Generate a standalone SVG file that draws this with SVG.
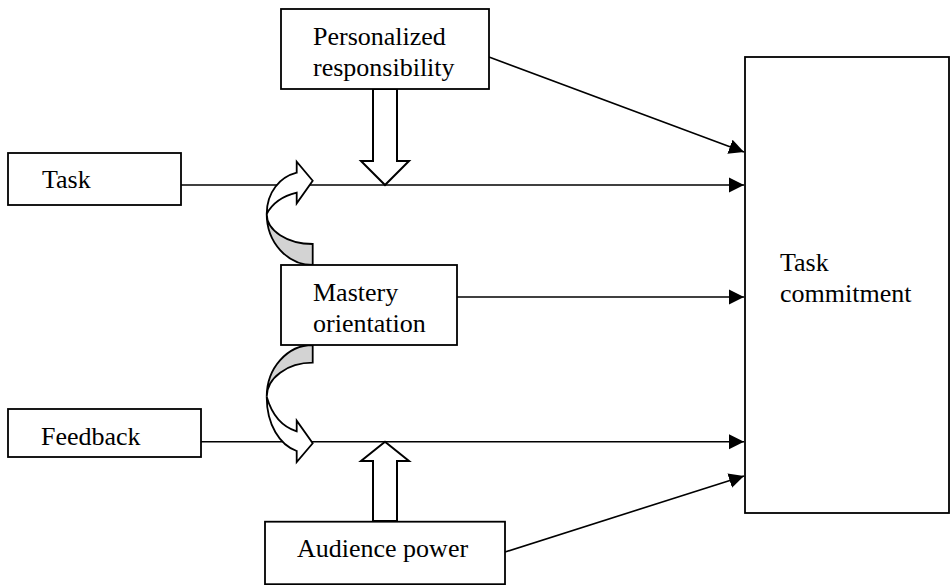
<svg xmlns="http://www.w3.org/2000/svg" width="951" height="585" viewBox="0 0 951 585">
<defs>
<style>
.box{fill:#fff;stroke:#000;stroke-width:1.8}
.t{font-family:"Liberation Serif","Times New Roman",serif;font-size:26px;fill:#000}
.ln{stroke:#000;stroke-width:1.6;fill:none}
.ba{fill:#fff;stroke:#000;stroke-width:2;stroke-linejoin:miter}
.ca{fill:#fff;stroke:#000;stroke-width:1.8;stroke-linejoin:miter}
.cg{fill:#d3d3d3;stroke:#000;stroke-width:1.8}
</style>
<marker id="ah" markerUnits="userSpaceOnUse" markerWidth="16" markerHeight="16" viewBox="0 0 16 16" refX="15" refY="8" orient="auto">
<path d="M0,0.5 L15,8 L0,15.5 Z" fill="#000"/>
</marker>
</defs>
<g id="connectors">
<line class="ln" x1="181" y1="185" x2="744" y2="185" marker-end="url(#ah)"/>
<line class="ln" x1="457" y1="297" x2="744" y2="297" marker-end="url(#ah)"/>
<line class="ln" x1="201" y1="441.7" x2="744" y2="441.7" marker-end="url(#ah)"/>
<line class="ln" x1="489" y1="57" x2="744" y2="152" marker-end="url(#ah)"/>
<line class="ln" x1="505" y1="552" x2="744" y2="476" marker-end="url(#ah)"/>
<polygon class="ba" points="373,89 397,89 397,161 409,161 385,185 361,161 373,161"/>
<polygon class="ba" points="373,521 397,521 397,461 409,461 385,441.7 361,461 373,461"/>
<g id="curve-up">
<path class="cg" d="M266.7,214 A46,30 0 0 0 312.7,244 L312.7,265 A46,51 0 0 1 266.7,214 Z"/>
<path class="ca" d="M266.7,214 C266.7,192 280,177 296.7,172.7 L296.7,161.7 L312.7,180.7 L296.7,203.3 L296.7,192.7 C283,196 272,204 266.7,214 Z"/>
</g>
<g id="curve-down">
<path class="cg" d="M266.7,396.7 A46,34 0 0 1 312.7,362.7 L312.7,345 A46,51.7 0 0 0 266.7,396.7 Z"/>
<path class="ca" d="M266.7,396.7 C266.7,425 280,445 296.7,451 L296.7,462 L312.7,443.3 L296.7,420.7 L296.7,431.3 C283,427 272,415 266.7,396.7 Z"/>
</g>
</g>
<g id="personalized">
<rect class="box" x="281" y="9" width="208" height="80"/>
<text class="t" x="313" y="45">Personalized</text>
<text class="t" x="313" y="76">responsibility</text>
</g>
<g id="task">
<rect class="box" x="8" y="153" width="173" height="52"/>
<text class="t" x="42" y="188">Task</text>
</g>
<g id="mastery">
<rect class="box" x="281" y="265" width="176" height="80"/>
<text class="t" x="313" y="300.5">Mastery</text>
<text class="t" x="313" y="331.5">orientation</text>
</g>
<g id="feedback">
<rect class="box" x="8" y="409" width="193" height="48"/>
<text class="t" x="41" y="445">Feedback</text>
</g>
<g id="audience">
<rect class="box" x="265" y="521.7" width="240" height="62.5"/>
<text class="t" x="297" y="557">Audience power</text>
</g>
<g id="commitment">
<rect class="box" x="745" y="57" width="204" height="456"/>
<text class="t" x="780" y="271">Task</text>
<text class="t" x="780" y="302">commitment</text>
</g>
</svg>
